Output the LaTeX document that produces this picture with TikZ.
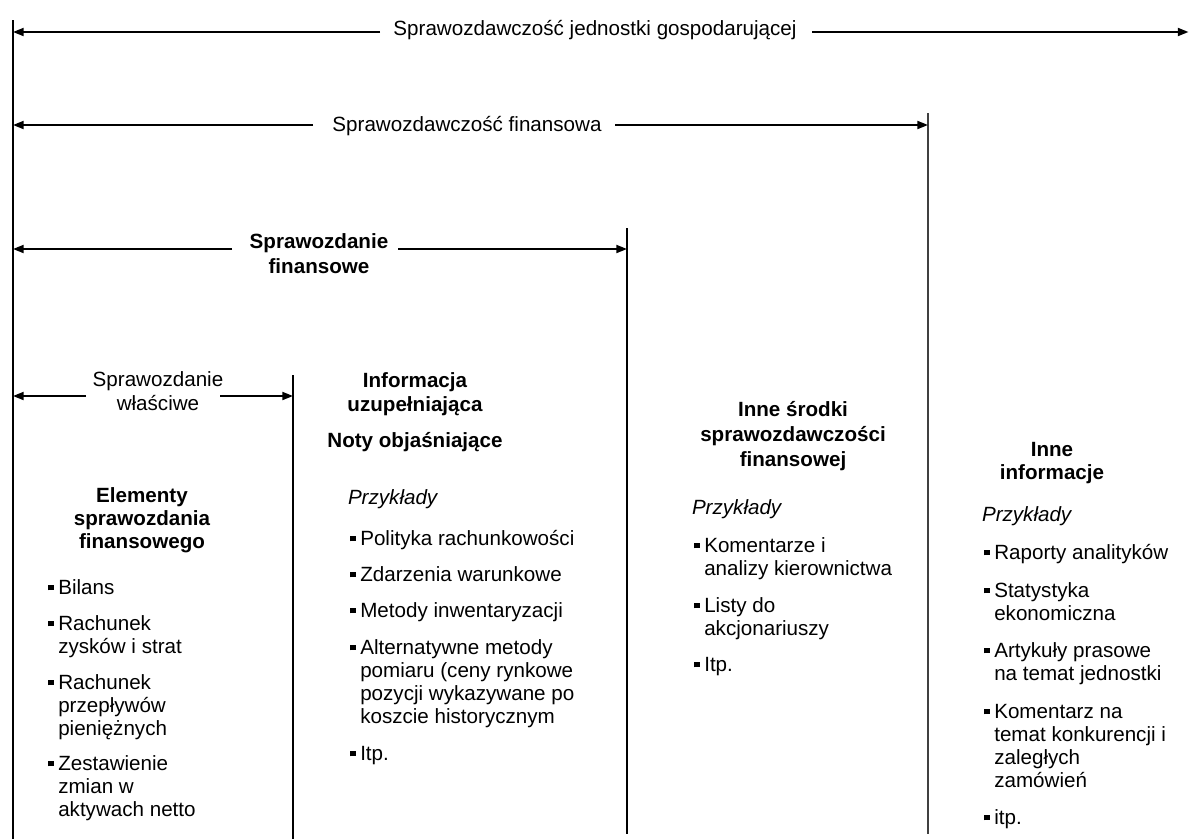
\documentclass[tikz,border=0pt]{standalone}
\usepackage{fontspec}
\setmainfont{Liberation Sans}
\usetikzlibrary{arrows.meta}

% square bullet and the matching hanging indent
\newcommand\itm{\makebox[7.7pt][l]{\rule[2.8pt]{4.2pt}{4.2pt}}}
\newcommand\cnt{\makebox[7.7pt]{}}

\begin{document}
\begin{tikzpicture}[x=0.75pt,y=-0.75pt,
  every node/.style={inner sep=0pt, outer sep=0pt,
    font=\fontsize{15.45}{17.25}\selectfont},
  rule/.style={line width=1.1pt},
  span/.style={line width=1.4pt, -{Triangle[length=8pt,width=6pt]}},
  ln/.style={anchor=base west},
  lbl/.style={anchor=base},
  hd/.style={anchor=base, font=\fontsize{15.45}{17.25}\selectfont\bfseries},
  ex/.style={anchor=base west, font=\fontsize{15.45}{17.25}\selectfont\itshape},
]
\useasboundingbox (0,0) rectangle (1189,839);

% vertical boundaries
\coordinate (v0t) at (13,20);   \coordinate (v0b) at (13,839);
\coordinate (v1t) at (293,375); \coordinate (v1b) at (293,839);
\coordinate (v2t) at (627,228); \coordinate (v2b) at (627,834);
\coordinate (v3t) at (928,113); \coordinate (v3b) at (928,834);
\draw[rule] (v0t) -- (v0b);
\draw[rule] (v1t) -- (v1b);
\draw[rule] (v2t) -- (v2b);
\draw[rule, black!75] (v3t) -- (v3b);

% level 1: whole reporting
\node[lbl] (t1) at (595,35) {Sprawozdawczość jednostki gospodarującej};
\coordinate (a1l) at (380,32); \coordinate (a1r) at (812,32);
\coordinate (a1e) at (1188.5,32);
\draw[span] (a1l) -- (a1l -| v0t);
\draw[span] (a1r) -- (a1e);

% level 2: financial reporting
\node[lbl] (t2) at (467,131) {Sprawozdawczość finansowa};
\coordinate (a2l) at (313,125); \coordinate (a2r) at (615,125);
\draw[span] (a2l) -- (a2l -| v0t);
\draw[span] (a2r) -- (a2r -| v3t);

% level 3: financial statement
\node[hd] (t3a) at (319,248) {Sprawozdanie};
\node[hd] (t3b) at (319,273) {finansowe};
\coordinate (a3l) at (232,249); \coordinate (a3r) at (398,249);
\draw[span] (a3l) -- (a3l -| v0t);
\draw[span] (a3r) -- (a3r -| v2t);

% level 4: statement proper
\node[lbl] (t4a) at (158,386) {Sprawozdanie};
\node[lbl] (t4b) at (158,410) {właściwe};
\coordinate (a4l) at (86,396); \coordinate (a4r) at (220,396);
\draw[span] (a4l) -- (a4l -| v0t);
\draw[span] (a4r) -- (a4r -| v1t);

% column 1
\node[hd] (h1a) at (142,502) {Elementy};
\node[hd] (h1b) at (142,525) {sprawozdania};
\node[hd] (h1c) at (142,548) {finansowego};
\foreach \y/\t [count=\i] in {
  594/\itm Bilans,
  630/\itm Rachunek,
  653/\cnt zysków i strat,
  689/\itm Rachunek,
  712/\cnt przepływów,
  735/\cnt pieniężnych,
  770/\itm Zestawienie,
  793/\cnt zmian w,
  816/\cnt aktywach netto}
  \node[ln] (c1-\i) at (48,\y) {\t};

% column 2
\node[hd] (h2a) at (415,387) {Informacja};
\node[hd] (h2b) at (415,411) {uzupełniająca};
\node[hd] (h2c) at (415,447) {Noty objaśniające};
\node[ex] (p2) at (348,504) {Przykłady};
\foreach \y/\t [count=\i] in {
  545/\itm Polityka rachunkowości,
  581/\itm Zdarzenia warunkowe,
  617/\itm Metody inwentaryzacji,
  654/\itm Alternatywne metody,
  677/\cnt pomiaru (ceny rynkowe,
  700/\cnt pozycji wykazywane po,
  723/\cnt koszcie historycznym,
  760/\itm Itp.}
  \node[ln] (c2-\i) at (350,\y) {\t};

% column 3
\node[hd] (h3a) at (793,416) {Inne środki};
\node[hd] (h3b) at (793,441) {sprawozdawczości};
\node[hd] (h3c) at (793,466) {finansowej};
\node[ex] (p3) at (692,514) {Przykłady};
\foreach \y/\t [count=\i] in {
  552/\itm Komentarze i,
  575/\cnt analizy kierownictwa,
  612/\itm Listy do,
  635/\cnt akcjonariuszy,
  671/\itm Itp.}
  \node[ln] (c3-\i) at (694,\y) {\t};

% column 4
\node[hd] (h4a) at (1052,456) {Inne};
\node[hd] (h4b) at (1052,479) {informacje};
\node[ex] (p4) at (982,521) {Przykłady};
\foreach \y/\t [count=\i] in {
  559/\itm Raporty analityków,
  597/\itm Statystyka,
  620/\cnt ekonomiczna,
  657/\itm Artykuły prasowe,
  680/\cnt na temat jednostki,
  718/\itm Komentarz na,
  741/\cnt temat konkurencji i,
  764/\cnt zaległych,
  787/\cnt zamówień,
  824/\itm itp.}
  \node[ln] (c4-\i) at (984,\y) {\t};

\end{tikzpicture}
\end{document}
